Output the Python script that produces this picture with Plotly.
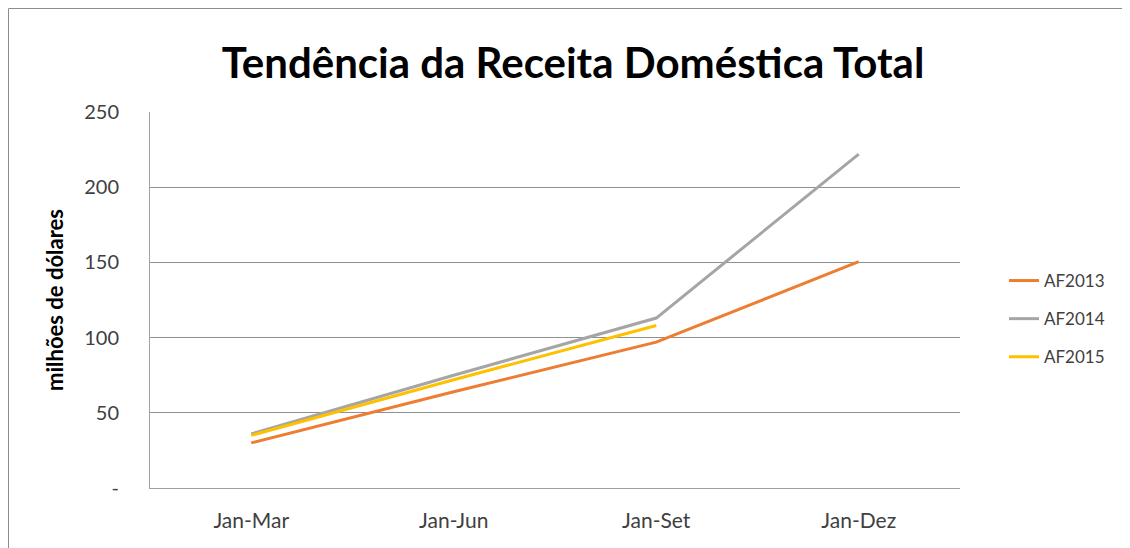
import plotly.graph_objects as go

categories = ["Jan-Mar", "Jan-Jun", "Jan-Set", "Jan-Dez"]
af2013 = [30, 64, 97, 150.5]
af2014 = [36, 75, 113, 222]
af2015 = [35, 72, 108]
y_ticks = [0, 50, 100, 150, 200, 250]
y_tick_labels = ["-", "50", "100", "150", "200", "250"]

series = [("AF2013", af2013, "#ED7D31"), ("AF2014", af2014, "#A5A5A5"), ("AF2015", af2015, "#FFC000")]

L, T, PW, PH = 142, 104, 810, 376
fig = go.Figure()
for i, (name, vals, col) in enumerate(series):
    fig.add_trace(go.Scatter(x=categories[:len(vals)], y=vals, mode="lines", name=name,
                             line=dict(color=col, width=3), legendgroup=str(i)))

fig.update_layout(
    width=1130, height=548,
    margin=dict(l=L, r=1130 - L - PW, t=T, b=548 - T - PH),
    paper_bgcolor="white", plot_bgcolor="white",
    font=dict(family="Lato", color="#404040"),
    title=dict(text="<b>Tendência da Receita Doméstica Total</b>", x=0.5, xanchor="center",
               y=1 - 55 / 548, yanchor="middle", yref="container",
               font=dict(family="Lato", size=42, color="#000000")),
    legend=dict(x=(1004 - 150) / PW, y=(T + PH - 311) / PH, xanchor="left", yanchor="middle", traceorder="grouped",
                tracegroupgap=13, font=dict(size=17, color="#404040"), bgcolor="rgba(0,0,0,0)"),
    showlegend=True,
)
fig.update_xaxes(type="category", categoryorder="array", categoryarray=categories,
                 range=[-0.5, 3.5], showline=True, linecolor="#A0A0A0", linewidth=1,
                 showgrid=False, ticks="", tickfont=dict(size=21, color="#404040"), ticklabelstandoff=14)
fig.update_yaxes(range=[0, 250], tickvals=y_ticks, ticktext=y_tick_labels,
                 showline=True, linecolor="#A0A0A0", linewidth=1,
                 showgrid=True, gridcolor="#909090", gridwidth=1, zeroline=False,
                 tickfont=dict(size=20, color="#404040"), ticks="", ticklabelstandoff=26,
                 title=dict(text="<b>milhões de dólares</b>", font=dict(size=22, color="#000000"), standoff=14))
fig.add_shape(type="rect", xref="paper", yref="paper",
              x0=(0.5 - L) / PW, x1=1.5, y0=-0.5, y1=(T + PH - 0.5) / PH,
              line=dict(color="#8C8C8C", width=1), fillcolor="rgba(0,0,0,0)", layer="below")
fig.write_html("out.html")
